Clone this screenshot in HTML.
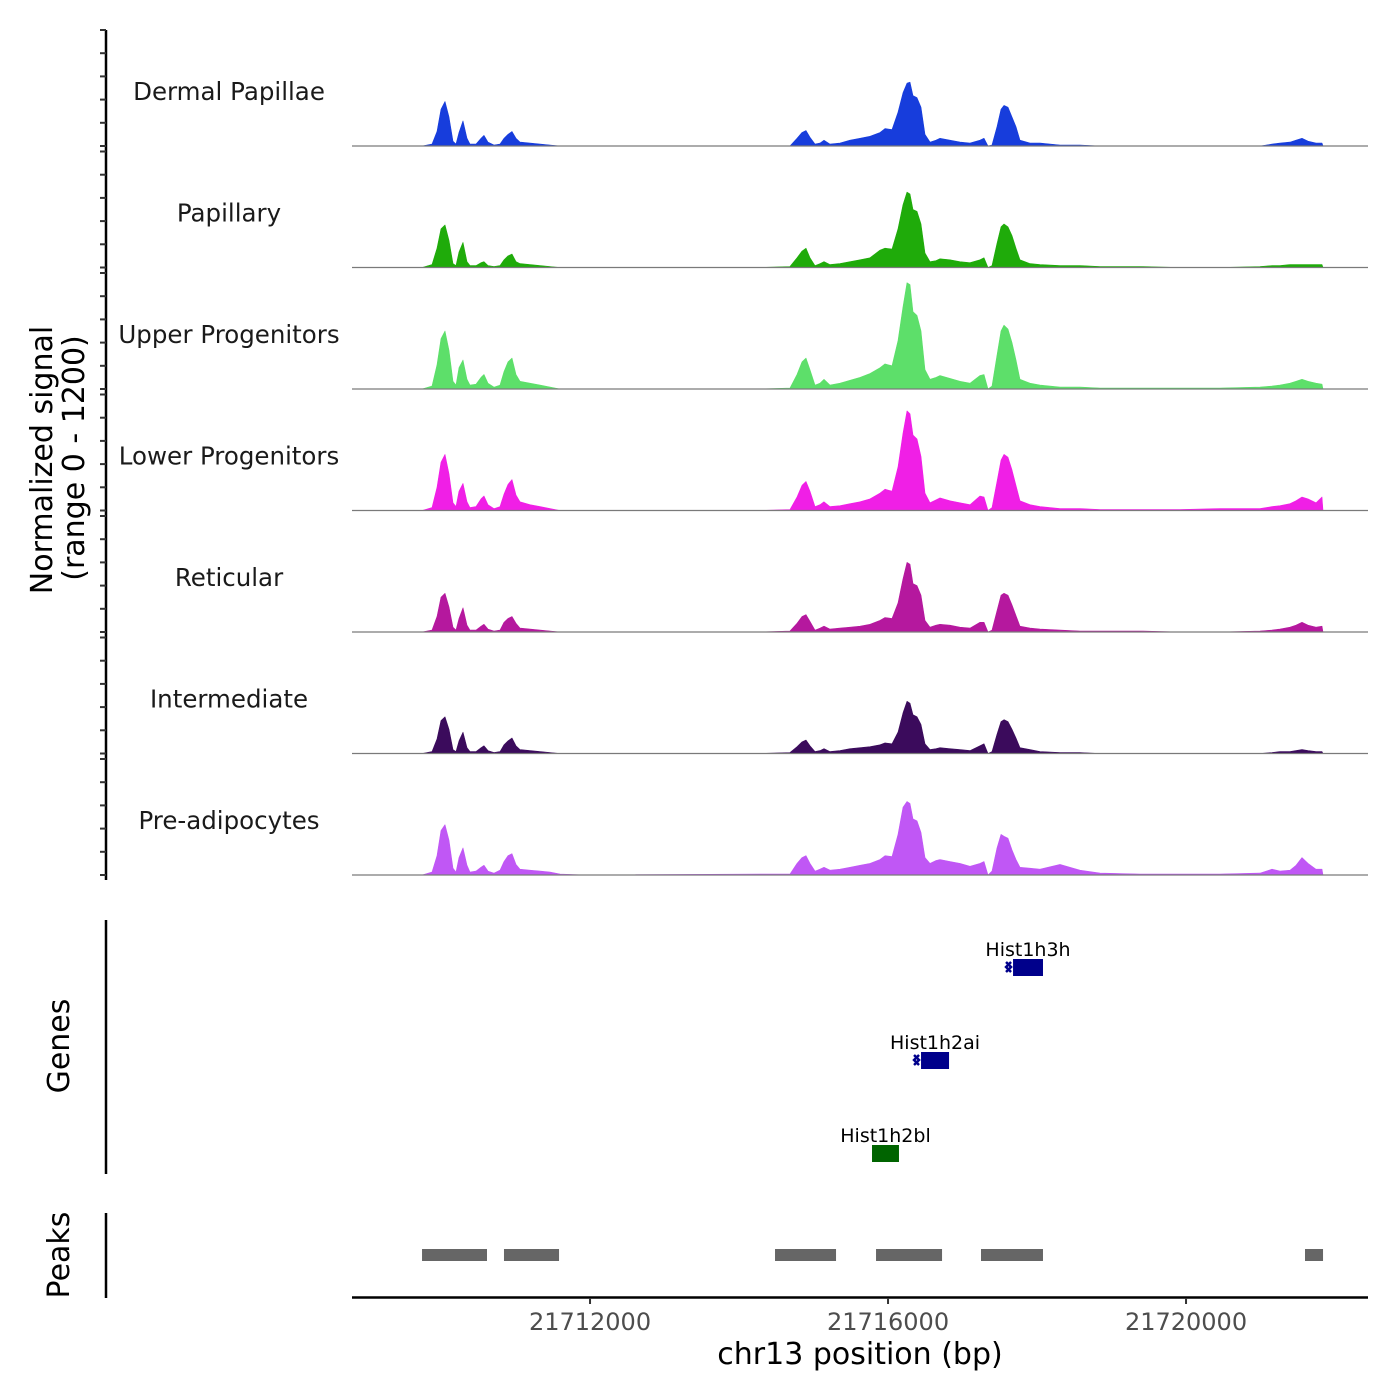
<!DOCTYPE html>
<html><head><meta charset="utf-8"><style>
html,body{margin:0;padding:0;background:#fff;width:1400px;height:1400px;overflow:hidden}
svg{display:block;font-family:"DejaVu Sans","Liberation Sans",sans-serif}
</style></head><body>
<svg id="chart" width="1400" height="1400" viewBox="0 0 1400 1400" xmlns="http://www.w3.org/2000/svg">
<g id="tracks"></g>
<g id="yaxis"></g>
<text transform="translate(52,460) rotate(-90)" text-anchor="middle" font-size="30" fill="#000">Normalized signal</text>
<text transform="translate(84,458) rotate(-90)" text-anchor="middle" font-size="30" fill="#000">(range 0 - 1200)</text>
<line x1="106" y1="920" x2="106" y2="1174" stroke="#000" stroke-width="2.5"/>
<text transform="translate(69,1046) rotate(-90)" text-anchor="middle" font-size="30">Genes</text>
<g id="genes"></g>
<line x1="106" y1="1213" x2="106" y2="1298" stroke="#000" stroke-width="2.5"/>
<text transform="translate(69,1255) rotate(-90)" text-anchor="middle" font-size="30">Peaks</text>
<g id="peaks"></g>
<g id="xaxis"></g>
<text x="860" y="1364" text-anchor="middle" font-size="30">chr13 position (bp)</text>
</svg>
<script>
const positions = [21709745,21709879,21709946,21710000,21710053,21710107,21710161,21710201,21710241,21710295,21710349,21710389,21710469,21710537,21710577,21710631,21710711,21710792,21710845,21710899,21710953,21711006,21711060,21711194,21711329,21711463,21711597,21711933,
21714282,21714684,21714778,21714845,21714899,21714953,21715020,21715087,21715141,21715221,21715355,21715490,21715624,21715758,
21715892,21715959,21716053,21716134,21716201,21716255,21716295,21716335,21716389,21716443,21716496,21716563,21716644,21716698,21716832,21716966,21717100,21717235,
21717288,21717342,21717396,21717463,21717517,21717557,21717610,21717664,21717718,21717772,21717906,21718040,21718308,21718577,
21718845,21719382,21719919,21720456,21720993,21721154,21721261,21721396,21721476,21721557,21721637,21721745,21721825,21721839];
const trackNames = ["Dermal Papillae","Papillary","Upper Progenitors","Lower Progenitors","Reticular","Intermediate","Pre-adipocytes"];
const trackColors = ["#173ddc","#1fab0a","#5ddf6a","#f01fe6","#b5189e","#3b0b5c","#c057f5"];
const dermalPapillae = [0,20,150,380,460,300,50,20,140,260,80,20,20,80,110,40,10,20,80,120,150,80,40,30,20,10,0,0,
0,0,80,140,160,90,20,30,60,20,30,60,80,100,
140,180,170,350,550,650,660,520,500,400,120,40,60,80,60,40,30,60,
80,0,10,200,380,420,400,300,200,60,30,30,10,10,
0,0,0,0,0,20,30,40,60,80,50,30,30,0];
const papillary = [0,30,200,400,440,280,40,20,160,260,60,20,20,50,60,20,10,20,80,120,140,60,40,30,20,10,0,0,
0,10,100,170,200,100,20,40,60,30,40,60,80,100,
180,200,190,400,650,780,760,600,580,450,150,60,70,90,80,60,50,80,
100,0,20,250,420,450,420,330,200,80,40,30,20,20,
10,10,0,0,10,20,20,30,30,30,30,30,30,0];
const upperProgenitors = [0,30,250,520,600,400,80,40,220,300,100,40,50,120,150,60,20,40,180,280,320,150,80,60,40,20,0,0,
0,10,150,280,320,200,40,60,100,40,60,90,120,160,
220,260,240,500,850,1100,1080,800,760,600,200,100,120,140,110,80,60,140,
150,0,30,350,600,660,620,480,300,100,60,40,20,20,
10,10,10,10,20,30,40,60,80,100,80,60,50,0];
const lowerProgenitors = [0,30,240,500,580,380,80,40,200,280,90,30,40,120,150,60,20,40,170,270,320,160,90,60,40,20,0,0,
0,10,140,260,300,200,40,60,90,40,50,70,90,120,
180,220,200,450,800,1030,1000,780,740,560,180,80,110,130,100,80,60,150,
140,0,30,300,520,580,550,420,260,100,60,40,20,20,
10,10,10,20,20,40,50,70,100,140,120,80,140,0];
const reticular = [0,20,160,360,400,260,50,20,140,250,70,20,20,60,80,30,10,20,100,140,160,90,40,30,20,10,0,0,
0,10,90,160,180,110,20,40,60,30,40,50,60,80,
120,150,140,300,550,720,700,500,480,380,120,50,70,80,70,50,40,100,
100,0,20,220,380,400,380,280,170,60,40,30,20,10,
10,10,0,0,10,20,30,50,70,100,70,50,60,0];
const intermediate = [0,20,150,340,380,250,40,20,130,220,60,20,20,60,80,30,10,20,90,130,160,80,40,30,20,10,0,0,
0,10,70,120,140,80,20,30,50,20,30,50,60,70,
90,110,100,220,420,540,520,400,380,300,100,40,50,60,50,40,30,80,
100,0,20,200,330,350,330,250,160,60,40,20,10,10,
0,0,0,0,0,10,20,20,30,40,30,20,20,0];
const preAdipocytes = [0,30,200,460,520,360,70,30,180,280,100,30,40,80,100,40,20,50,140,200,220,110,60,50,40,30,10,0,
10,10,120,180,200,120,40,60,80,50,60,80,100,120,
160,200,190,420,700,760,740,580,560,440,180,120,150,160,140,120,90,120,
140,0,40,280,420,400,380,260,160,80,70,60,110,50,
20,10,10,10,20,60,40,50,100,180,120,60,60,0];
const trackValues = [dermalPapillae,papillary,upperProgenitors,lowerProgenitors,reticular,intermediate,preAdipocytes];
const peakStarts = [21709745,21710845,21714483,21715839,21717248,21721597];
const peakEnds = [21710617,21711584,21715302,21716725,21718080,21721839];
const geneNames = ["Hist1h3h","Hist1h2ai","Hist1h2bl"];
const geneStarts = [21717678,21716443,21715785];
const geneEnds = [21718080,21716819,21716147];
const geneStrands = ["-","-","+"];
const xTicks = [21712000,21716000,21720000];
const xTickLabels = ["21712000","21716000","21720000"];
const yMax = 1200;

const NS="http://www.w3.org/2000/svg";
const X0=352, X1=1368, BP0=21708805, PXBP=0.0745;
function xScale(bp){return X0+(bp-BP0)*PXBP;}
const TRACK_H=116, BASE0=146, STEP=121.5;
function yScale(v,i){const b=BASE0+i*STEP;return b-v/yMax*TRACK_H;}
function mk(tag,attrs,parent){const e=document.createElementNS(NS,tag);for(const k in attrs)e.setAttribute(k,attrs[k]);parent.appendChild(e);return e;}

const tracks=document.getElementById('tracks');
const yaxis=document.getElementById('yaxis');
mk('line',{x1:106,y1:30,x2:106,y2:880,stroke:'#000','stroke-width':2.5},yaxis);
trackValues.forEach((vals,i)=>{
  const g=mk('g',{},tracks);
  
  
  const base=BASE0+i*STEP;
  let d='M'+xScale(positions[0]).toFixed(1)+','+base;
  positions.forEach((p,j)=>{d+=' L'+xScale(p).toFixed(1)+','+yScale(vals[j],i).toFixed(1);});
  d+=' L'+xScale(positions[positions.length-1]).toFixed(1)+','+base+' Z';
  const area=mk('path',{d:d,fill:trackColors[i],stroke:trackColors[i],'stroke-width':0.6,'stroke-linejoin':'round'},g);
  
  
  const bl=mk('line',{x1:X0,y1:base,x2:X1,y2:base,stroke:'#7a7a7a','stroke-width':1.2},g);
  
  
  const t=mk('text',{x:229,y:base-46,'text-anchor':'middle','font-size':24.5,fill:'#1a1a1a'},g);
  t.textContent=trackNames[i];
  
  
  for(let k=0;k<=5;k++){
    const y=base-k*TRACK_H/5;
    const tk=mk('line',{x1:100,y1:y,x2:106,y2:y,stroke:'#333','stroke-width':2},yaxis);
    
    
  }
});

const genes=document.getElementById('genes');
const geneRows=[967,1060,1153];
geneNames.forEach((n,i)=>{
  const g=mk('g',{},genes);
  
  
  const col=geneStrands[i]==='+'?'#006400':'#00008b';
  const xs=xScale(geneStarts[i]), xe=xScale(geneEnds[i]), y=geneRows[i];
  const r=mk('rect',{x:xs,y:y-8,width:xe-xs,height:17,fill:col},g);
  
  
  if(geneStrands[i]==='-'){
    const a=mk('path',{d:`M${xs-2},${y-5} L${xs-7},${y} L${xs-2},${y+5} M${xs-7},${y-5} L${xs-2},${y} L${xs-7},${y+5}`,stroke:col,'stroke-width':2.5,fill:'none'},g);
    
    
  }
  const t=mk('text',{x:(xs+xe)/2,y:y-11,'text-anchor':'middle','font-size':19,fill:'#000'},g);
  t.textContent=n;
  
  
});

const peaks=document.getElementById('peaks');
peakStarts.forEach((s,i)=>{
  const r=mk('rect',{x:xScale(s),y:1249,width:xScale(peakEnds[i])-xScale(s),height:12,fill:'#666666'},peaks);
  
  
});

const xaxis=document.getElementById('xaxis');
mk('line',{x1:X0,y1:1297.5,x2:X1,y2:1297.5,stroke:'#000','stroke-width':2.5},xaxis);
xTicks.forEach((v,i)=>{
  const x=xScale(v);
  const tk=mk('line',{x1:x,y1:1298,x2:x,y2:1304,stroke:'#333','stroke-width':2},xaxis);
  
  
  const t=mk('text',{x:x,y:1330,'text-anchor':'middle','font-size':24,fill:'#4d4d4d'},xaxis);
  t.textContent=xTickLabels[i];
  
  
});
</script>
</body></html>
